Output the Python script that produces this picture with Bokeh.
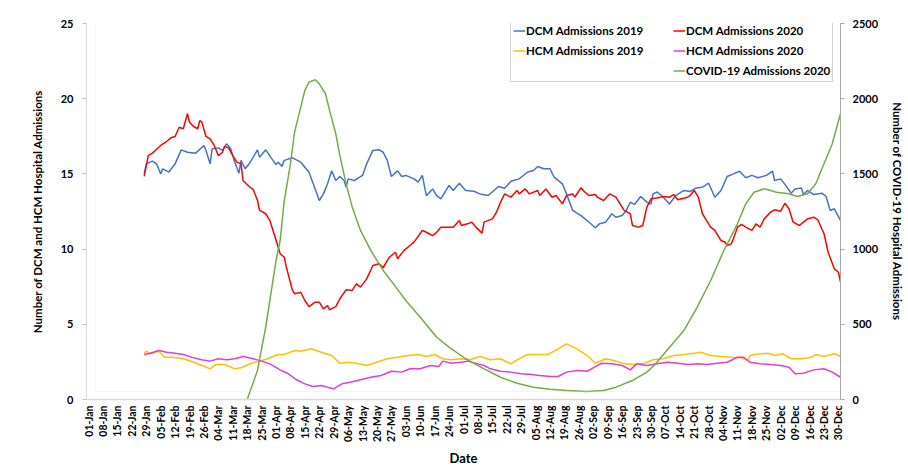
import numpy as np
from bokeh.plotting import figure
from bokeh.models import Range1d, LinearAxis, FixedTicker, Legend, LegendItem, BoxAnnotation
from bokeh.embed import file_html
from bokeh.resources import INLINE

# ---------------- data ----------------
tick_labels = ["01-Jan", "08-Jan", "15-Jan", "22-Jan", "29-Jan", "05-Feb", "12-Feb", "19-Feb", "26-Feb",
               "04-Mar", "11-Mar", "18-Mar", "25-Mar", "01-Apr", "08-Apr", "15-Apr", "22-Apr", "29-Apr",
               "06-May", "13-May", "20-May", "27-May", "03-Jun", "10-Jun", "17-Jun", "24-Jun", "01-Jul",
               "08-Jul", "15-Jul", "22-Jul", "29-Jul", "05-Aug", "12-Aug", "19-Aug", "26-Aug", "02-Sep",
               "09-Sep", "16-Sep", "23-Sep", "30-Sep", "07-Oct", "14-Oct", "21-Oct", "28-Oct", "04-Nov",
               "11-Nov", "18-Nov", "25-Nov", "02-Dec", "09-Dec", "16-Dec", "23-Dec", "30-Dec"]

dcm19_day = [27, 28, 31, 33, 35, 36, 39, 42, 45, 48, 52, 56, 57, 59, 60, 63, 65, 67, 69, 71, 73, 74, 76, 78,
             82, 83, 86, 89, 91, 92, 94, 95, 99, 103, 107, 110, 112, 114, 116, 118, 120, 122, 124, 125, 126,
             129, 133, 135, 138, 141, 143, 145, 147, 150, 152, 154, 158, 160, 162, 164, 167, 169, 171, 175,
             177, 180, 183, 187, 190, 194, 199, 202, 205, 209, 213, 216, 218, 221, 224, 226, 230, 232, 235,
             239, 242, 246, 248, 251, 254, 256, 259, 261, 263, 265, 268, 271, 273, 274, 276, 279, 282, 285,
             289, 292, 295, 298, 301, 304, 307, 310, 313, 316, 319, 322, 325, 329, 332, 333, 336, 339, 341,
             343, 346, 347, 349, 352, 356, 358, 360, 362, 365]
dcm19_val = [15.0, 15.67, 15.85, 15.67, 15.0, 15.34, 15.12, 15.67, 16.6, 16.44, 16.38, 16.89, 16.56, 15.67,
             16.67, 16.73, 16.56, 17.0, 16.67, 15.78, 15.05, 15.9, 15.34, 15.67, 16.6, 16.1, 16.6, 16.0,
             15.62, 15.78, 15.5, 15.9, 16.07, 15.78, 15.11, 14.0, 13.23, 13.67, 14.34, 15.2, 14.56, 14.83,
             14.56, 14.12, 14.67, 14.56, 14.9, 15.67, 16.56, 16.6, 16.44, 15.9, 14.83, 15.2, 14.83, 14.9,
             14.67, 14.45, 14.9, 13.54, 14.0, 13.56, 13.34, 14.23, 13.9, 14.38, 13.9, 13.85, 13.67, 13.56,
             14.16, 14.05, 14.51, 14.67, 15.11, 15.23, 15.49, 15.34, 15.34, 14.78, 14.34, 13.67, 12.57,
             12.23, 11.9, 11.42, 11.68, 11.79, 12.35, 12.12, 12.23, 12.57, 13.12, 12.97, 13.5, 13.12, 13.0,
             13.67, 13.8, 13.45, 13.0, 13.56, 13.9, 13.83, 14.07, 14.12, 14.38, 13.45, 13.9, 14.83, 15.0,
             15.18, 14.74, 14.9, 14.74, 14.9, 15.18, 14.56, 14.67, 14.12, 13.72, 14.0, 14.07, 13.63, 13.9,
             13.63, 13.72, 13.5, 12.57, 12.68, 11.9]

dcm20_day = [27, 29, 31, 32, 35, 38, 40, 42, 44, 46, 48, 49, 51, 53, 54, 55, 57, 59, 61, 63, 65, 66, 68, 70,
             72, 74, 75, 78, 80, 82, 83, 86, 88, 91, 93, 95, 96, 99, 100, 103, 105, 107, 110, 112, 114, 116,
             117, 120, 122, 125, 128, 130, 132, 135, 138, 141, 143, 146, 149, 150, 153, 156, 158, 162, 164,
             167, 169, 171, 175, 177, 180, 181, 184, 186, 188, 191, 192, 196, 198, 200, 202, 205, 208, 209,
             212, 214, 218, 219, 222, 225, 227, 230, 232, 235, 236, 239, 241, 243, 246, 247, 250, 253, 256,
             258, 260, 263, 264, 267, 269, 271, 273, 276, 279, 282, 284, 286, 290, 292, 294, 296, 298, 300,
             302, 304, 307, 309, 310, 312, 313, 315, 317, 319, 322, 324, 326, 328, 331, 333, 336, 338, 340,
             342, 345, 347, 349, 352, 354, 357, 359, 362, 364, 365]
dcm20_val = [14.83, 16.22, 16.38, 16.51, 16.89, 17.17, 17.4, 17.49, 18.1, 18.0, 19.0, 18.44, 18.15, 18.0,
             18.55, 18.44, 17.49, 17.33, 16.89, 16.22, 16.44, 16.82, 16.73, 16.22, 15.78, 15.67, 14.56,
             14.16, 13.94, 13.23, 12.57, 12.35, 11.9, 10.6, 9.69, 9.46, 8.8, 7.25, 7.03, 7.13, 6.58, 6.18,
             6.47, 6.47, 6.03, 6.25, 5.96, 6.18, 6.7, 7.29, 7.25, 7.69, 7.47, 8.02, 8.91, 9.02, 8.76, 9.46,
             9.79, 9.35, 9.9, 10.24, 10.46, 11.24, 11.12, 10.9, 11.12, 11.46, 11.46, 11.46, 11.9, 11.57,
             11.68, 11.79, 11.46, 11.06, 11.79, 12.01, 12.45, 13.12, 13.67, 13.45, 13.9, 13.67, 14.0, 13.67,
             13.9, 13.56, 14.0, 13.45, 13.56, 13.01, 13.56, 13.67, 13.45, 14.07, 13.78, 13.56, 13.63, 13.45,
             13.23, 13.67, 13.45, 13.01, 12.57, 12.35, 11.57, 11.46, 11.57, 12.79, 13.34, 13.4, 13.5, 13.45,
             13.63, 13.28, 13.41, 13.56, 13.9, 13.45, 12.35, 11.9, 11.46, 11.24, 10.57, 10.46, 10.24, 10.35,
             10.68, 11.46, 11.64, 11.46, 11.24, 11.68, 11.46, 12.01, 12.45, 12.61, 12.52, 13.05, 12.68,
             11.79, 11.57, 11.79, 12.01, 12.12, 11.95, 11.02, 9.79, 8.69, 8.46, 7.8]

hcm19_day = [27, 28, 30, 34, 37, 41, 46, 51, 55, 59, 62, 66, 71, 74, 79, 83, 87, 92, 95, 100, 103, 108, 113,
             118, 122, 126, 130, 135, 140, 145, 150, 155, 160, 164, 168, 172, 176, 181, 185, 190, 195, 200,
             205, 208, 213, 218, 223, 228, 232, 237, 242, 246, 251, 255, 260, 265, 270, 274, 279, 284, 289,
             294, 297, 302, 307, 312, 317, 320, 321, 326, 330, 333, 337, 341, 346, 351, 353, 357, 362, 365]
hcm19_val = [3.08, 3.21, 3.04, 3.21, 2.81, 2.81, 2.71, 2.48, 2.26, 2.04, 2.33, 2.33, 2.04, 2.11, 2.41, 2.55,
             2.71, 2.99, 2.99, 3.26, 3.21, 3.37, 3.14, 2.93, 2.41, 2.48, 2.41, 2.26, 2.48, 2.71, 2.81, 2.93,
             2.99, 2.86, 2.99, 2.71, 2.64, 2.71, 2.64, 2.86, 2.64, 2.71, 2.37, 2.64, 2.99, 2.99, 2.99, 3.37,
             3.7, 3.37, 2.93, 2.41, 2.71, 2.59, 2.37, 2.33, 2.41, 2.64, 2.71, 2.93, 2.99, 3.08, 3.14, 2.93,
             2.86, 2.81, 2.77, 2.59, 2.93, 3.04, 3.08, 2.93, 3.04, 2.71, 2.71, 2.81, 2.99, 2.86, 3.04, 2.86]

hcm20_day = [27, 30, 34, 38, 42, 46, 51, 55, 59, 63, 67, 71, 75, 80, 84, 88, 93, 97, 101, 105, 109, 113, 116,
             119, 123, 127, 132, 137, 142, 147, 152, 156, 161, 166, 170, 172, 176, 181, 184, 189, 192, 195,
             200, 205, 210, 215, 219, 224, 228, 232, 237, 242, 246, 249, 254, 259, 263, 266, 271, 276, 281,
             286, 291, 296, 300, 305, 310, 315, 318, 321, 326, 331, 336, 340, 343, 347, 352, 357, 361, 365]
hcm20_val = [2.99, 3.08, 3.26, 3.14, 3.08, 2.99, 2.77, 2.64, 2.55, 2.71, 2.64, 2.71, 2.86, 2.71, 2.55, 2.37,
             1.97, 1.71, 1.31, 1.04, 0.86, 0.93, 0.82, 0.71, 1.04, 1.15, 1.31, 1.48, 1.6, 1.88, 1.82, 2.04,
             2.04, 2.26, 2.19, 2.55, 2.41, 2.48, 2.55, 2.37, 2.26, 2.04, 1.88, 1.82, 1.71, 1.66, 1.6, 1.53,
             1.53, 1.82, 1.93, 1.88, 2.19, 2.41, 2.37, 2.26, 1.97, 2.37, 2.26, 2.37, 2.48, 2.41, 2.33, 2.37,
             2.33, 2.41, 2.48, 2.81, 2.81, 2.48, 2.37, 2.33, 2.26, 2.15, 1.71, 1.75, 1.97, 2.04, 1.82, 1.48]

covid_day = [77, 82, 86, 89, 91, 93, 95, 98, 100, 103, 105, 107, 110, 112, 115, 117, 120, 122, 125, 128, 132,
             137, 143, 148, 154, 161, 169, 175, 183, 192, 200, 208, 216, 224, 232, 242, 250, 256, 264, 271,
             275, 282, 289, 295, 302, 308, 315, 319, 323, 328, 334, 340, 344, 349, 353, 357, 361, 365]
covid_val = [0, 193, 481, 747, 925, 1057, 1323, 1567, 1777, 1944, 2055, 2110, 2126, 2099, 2033, 1922, 1767,
             1622, 1434, 1279, 1124, 991, 858, 769, 658, 547, 414, 348, 271, 204, 148, 108, 82, 68, 60, 53,
             60, 82, 126, 182, 233, 348, 459, 603, 791, 979, 1168, 1301, 1378, 1401, 1378, 1368, 1350, 1368,
             1434, 1567, 1700, 1900]

left_ticks = [0, 5, 10, 15, 20, 25]
right_ticks = [0, 500, 1000, 1500, 2000, 2500]

# ---------------- figure ----------------
FONT = "Lato"

p = figure(width=908, height=470, output_backend="svg", toolbar_location=None,
           x_range=Range1d(-1, 365), y_range=Range1d(0, 25),
           min_border_left=86, min_border_right=68, min_border_top=23, min_border_bottom=71)
p.extra_y_ranges = {"covid": Range1d(0, 2500)}
p.xgrid.visible = False
p.ygrid.visible = False
p.outline_line_color = None

r1 = p.line(dcm19_day, dcm19_val, line_color="#4472C4", line_width=1.5)
r2 = p.line(dcm20_day, dcm20_val, line_color="#FF0000", line_width=1.5)
r3 = p.line(hcm19_day, hcm19_val, line_color="#FFC000", line_width=1.5)
r4 = p.line(hcm20_day, hcm20_val, line_color="#E23ED0", line_width=1.5)
r5 = p.line(covid_day, covid_val, line_color="#70AD47", line_width=1.5, y_range_name="covid")
r_blank = p.line([], [], line_alpha=0)

# chart-area border
p.add_layout(BoxAnnotation(left=9, right=898, top=8, bottom=467,
                           left_units="screen", right_units="screen",
                           top_units="screen", bottom_units="screen",
                           fill_alpha=0, line_color="#D9D9D9", line_width=1))

# x axis
xa = p.xaxis[0]
tick_pos = [7 * i for i in range(len(tick_labels))]
xa.ticker = FixedTicker(ticks=tick_pos)
xa.major_label_overrides = {t: lbl for t, lbl in zip(tick_pos, tick_labels)}
xa.major_label_orientation = np.pi / 2
xa.minor_tick_line_color = None
xa.major_tick_line_color = None
xa.major_tick_out = 0
xa.major_tick_in = 0
xa.major_label_standoff = 6
xa.axis_line_color = "#D9D9D9"
xa.axis_line_width = 1.5
xa.axis_label = "Date"
xa.axis_label_standoff = 5
xa.axis_label_text_font_size = "13px"

# left axis
ya = p.yaxis[0]
ya.ticker = FixedTicker(ticks=left_ticks)
ya.minor_tick_line_color = None
ya.major_tick_in = 0
ya.major_tick_out = 4
ya.major_tick_line_color = "#BFBFBF"
ya.axis_line_color = "#D9D9D9"
ya.major_label_standoff = 9
ya.axis_label = "Number of DCM and HCM Hospital Admissions"
ya.axis_label_standoff = 14
ya.axis_label_text_font_size = "11.5px"

# right axis
ra = LinearAxis(y_range_name="covid", ticker=FixedTicker(ticks=right_ticks))
ra.minor_tick_line_color = None
ra.major_tick_in = 0
ra.major_tick_out = 4
ra.major_tick_line_color = "#A6A6A6"
ra.axis_line_color = "#A6A6A6"
ra.major_label_standoff = 8
ra.axis_label = "Number of COVID-19 Hospital Admissions"
ra.axis_label_standoff = 10
ra.axis_label_text_font_size = "11.5px"
p.add_layout(ra, "right")

for ax in [xa, ya, ra]:
    ax.major_label_text_font = FONT
    ax.major_label_text_font_style = "bold"
    ax.major_label_text_font_size = "11px"
    ax.major_label_text_color = "black"
    ax.axis_label_text_font = FONT
    ax.axis_label_text_font_style = "bold"
    ax.axis_label_text_color = "black"
xa.major_label_text_font_size = "10.5px"

legend = Legend(items=[
    LegendItem(label="DCM Admissions 2019", renderers=[r1]),
    LegendItem(label="DCM Admissions 2020", renderers=[r2]),
    LegendItem(label="HCM Admissions 2019", renderers=[r3]),
    LegendItem(label="HCM Admissions 2020", renderers=[r4]),
    LegendItem(label=" ", renderers=[r_blank]),
    LegendItem(label="COVID-19 Admissions 2020", renderers=[r5]),
], orientation="horizontal", ncols=2, location=(424, 317))
legend.label_text_font = FONT
legend.label_text_font_style = "bold"
legend.label_text_font_size = "11.5px"
legend.label_text_color = "black"
legend.glyph_width = 12
legend.glyph_height = 17
legend.label_height = 17
legend.label_width = 144
legend.label_standoff = 1
legend.spacing = 3
legend.padding = 2
legend.margin = 0
legend.border_line_color = "#A6A6A6"
legend.border_line_width = 1
legend.background_fill_color = "white"
legend.background_fill_alpha = 1
p.add_layout(legend)

open("out.html", "w").write(file_html(p, INLINE))
